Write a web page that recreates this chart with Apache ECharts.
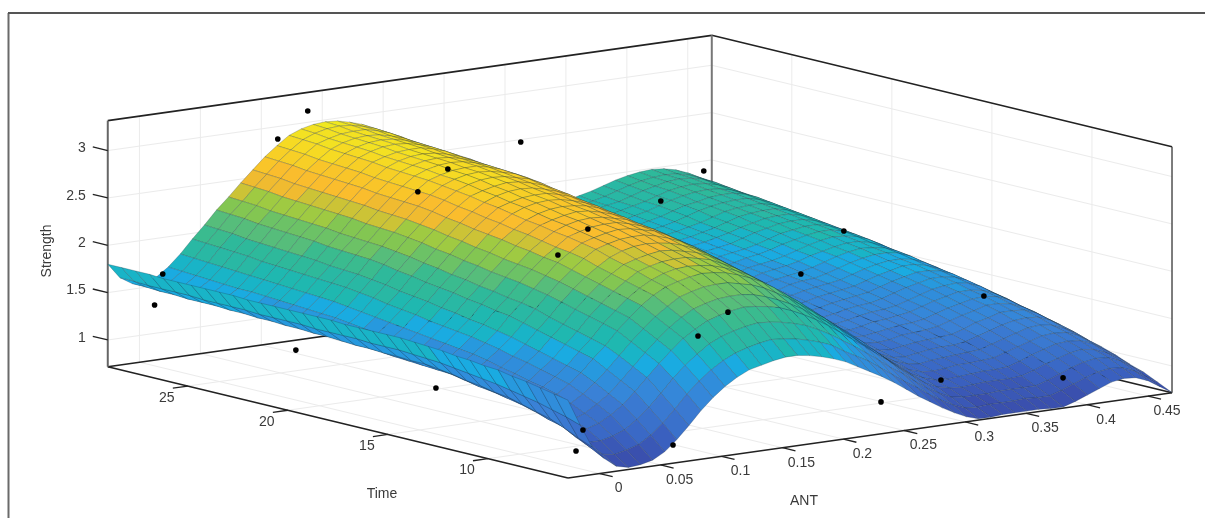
<!DOCTYPE html>
<html><head><meta charset="utf-8"><style>html,body{margin:0;padding:0;background:#fff}#c{width:1205px;height:518px}</style>
<script src="https://cdn.jsdelivr.net/npm/echarts@6/dist/echarts.min.js"></script></head><body><div id="c"></div><script>
// Strength x 100, one row per Time step (front to back), one value per ANT step (low to high)
const strengthRows=[
[154,126,101,87,77,74,75,78,85,96,109,123,135,145,153,159,162,165,167,167,165,162,158,153,146,139,132,124,115,106,98,90,83,77,73,73,74,74,74,74,73,73,77,82,87,92,94,93,88,80,72],
[157,131,107,95,86,84,87,91,99,110,123,137,149,159,167,173,177,180,182,181,179,176,172,167,159,152,145,136,127,118,110,101,93,86,81,80,81,81,81,82,81,81,85,90,95,99,101,100,95,87,79],
[160,135,114,102,95,95,98,103,112,123,136,150,162,172,181,187,191,194,196,195,193,190,186,180,173,165,157,148,139,129,121,111,102,95,89,87,87,87,88,88,88,88,92,97,102,106,108,107,102,94,86],
[163,139,120,110,102,104,108,115,124,136,149,162,174,185,193,200,204,207,209,208,206,203,198,192,185,177,168,159,150,140,131,120,111,102,96,93,92,93,94,94,94,95,99,104,108,112,114,112,107,100,91],
[165,142,124,114,109,110,115,123,132,144,157,170,182,193,202,209,213,216,217,217,215,211,206,200,193,184,176,167,157,147,138,127,117,108,102,98,97,98,99,100,100,101,105,110,114,118,119,118,113,105,97],
[168,145,128,119,114,116,122,130,140,152,165,178,190,201,210,218,222,225,226,226,223,220,215,208,201,192,183,174,164,154,145,133,123,114,107,103,102,103,105,105,106,107,111,115,119,123,124,123,118,110,102],
[169,148,132,123,119,122,128,137,147,160,172,186,198,209,218,225,229,232,234,233,231,227,222,216,208,199,190,180,170,160,151,139,129,119,112,108,106,108,109,110,111,112,116,120,124,128,129,127,122,115,106],
[171,150,134,126,121,125,132,141,151,164,176,190,202,213,222,229,234,237,238,237,235,231,226,220,212,203,194,184,174,164,154,142,132,123,116,111,110,112,114,115,115,117,121,125,129,132,133,132,127,119,111],
[172,152,137,129,124,128,135,145,155,168,180,194,206,217,226,234,238,241,242,242,239,236,230,224,216,207,198,188,178,168,158,146,136,127,119,115,114,116,118,119,120,121,125,130,133,137,137,136,131,123,115],
[174,154,139,131,127,131,139,149,159,172,184,198,210,221,230,238,242,245,247,246,243,240,235,228,220,211,201,191,181,171,161,149,139,130,123,119,118,119,122,123,124,126,130,134,137,141,141,139,134,127,118],
[175,156,142,134,130,134,142,152,163,176,188,202,214,225,234,242,247,250,251,250,248,244,239,232,224,215,205,195,185,175,165,153,143,134,126,122,121,123,125,127,128,130,134,138,141,144,145,143,138,130,122],
[176,157,144,137,132,137,146,156,167,180,193,206,218,229,239,247,251,254,255,255,252,248,243,236,228,219,209,199,188,178,168,156,146,137,130,125,124,126,129,130,132,134,138,142,145,148,148,146,141,134,125],
[177,158,146,138,134,140,149,159,170,184,196,209,221,233,242,250,254,257,259,258,255,252,246,239,231,222,212,202,191,181,171,159,149,140,133,128,127,129,132,134,135,137,141,145,149,151,152,150,145,137,129],
[177,159,146,139,136,142,151,162,173,186,198,212,224,235,244,253,257,260,261,261,258,254,249,242,233,224,214,204,194,183,173,161,151,142,135,131,130,132,135,137,138,141,145,149,152,155,155,153,148,140,132],
[177,159,147,140,138,144,153,164,175,189,201,214,226,238,247,255,260,263,264,263,260,257,251,244,236,226,216,206,196,185,175,163,153,145,138,133,133,135,138,140,142,144,148,152,155,158,158,156,151,143,135],
[177,159,147,141,139,145,155,166,178,191,203,216,228,240,250,258,262,265,267,266,263,259,254,246,238,229,219,208,198,187,177,165,156,147,140,136,135,138,141,143,145,147,151,155,158,161,161,158,153,146,137],
[177,160,148,143,141,147,157,168,180,194,206,219,231,243,252,260,265,268,269,268,266,262,256,249,240,231,221,211,200,189,179,168,158,149,143,138,138,141,144,146,148,150,154,158,161,163,163,161,156,149,140],
[178,160,148,144,143,149,159,171,183,196,208,221,233,245,255,263,268,271,272,271,268,264,259,251,243,233,223,213,202,192,181,170,160,152,145,140,140,143,147,149,150,153,157,161,164,166,166,164,159,151,143],
[178,160,149,145,144,151,161,173,185,198,211,224,236,247,257,266,270,273,274,274,271,267,261,254,245,236,225,215,204,194,183,172,162,154,147,143,143,146,149,151,153,156,160,164,167,169,168,166,161,154,145],
[178,160,150,146,146,153,163,175,187,201,213,226,238,250,260,268,273,276,277,276,273,269,264,256,248,238,228,217,207,196,185,174,164,156,150,145,145,148,152,154,156,159,163,166,169,171,171,168,163,156,147],
[178,161,150,147,147,155,165,178,190,203,216,229,241,252,262,271,275,278,280,279,276,272,266,259,250,240,230,219,209,198,187,176,167,158,152,147,147,150,154,156,158,161,165,169,172,174,173,171,166,159,150],
[178,161,151,148,149,157,167,180,192,206,218,231,243,255,265,273,278,281,282,281,278,275,269,261,252,243,232,222,211,200,189,178,169,160,154,149,149,152,156,159,161,164,168,171,174,176,176,173,168,161,152],
[178,161,151,149,150,158,169,182,194,208,220,233,245,257,267,275,280,283,284,283,280,277,271,263,254,245,234,223,213,202,191,180,170,162,156,151,151,155,159,161,163,166,170,174,176,178,178,175,170,163,154],
[178,161,152,149,151,159,170,183,195,209,221,234,246,258,268,277,281,284,285,285,282,278,272,264,255,246,235,224,214,203,192,181,172,163,157,153,153,157,161,163,165,169,173,176,179,180,180,177,172,165,156],
[179,162,152,150,152,160,171,184,196,210,222,235,247,259,269,278,283,286,287,286,283,279,273,265,257,247,236,225,215,204,193,182,173,165,159,154,155,159,163,165,168,171,175,178,181,182,182,179,174,167,158],
[179,162,153,150,153,161,172,185,198,211,223,237,249,260,270,279,284,287,288,287,284,280,274,267,258,248,237,226,216,205,194,183,174,166,161,156,157,160,165,167,170,173,177,181,183,184,184,181,176,169,160],
[179,162,153,151,153,162,173,186,199,213,225,238,250,262,271,280,285,288,289,288,285,281,276,268,259,249,238,228,217,206,195,184,176,168,162,158,159,162,167,169,172,175,179,183,185,186,186,183,178,171,162],
[179,162,154,152,154,163,174,187,200,214,226,239,251,263,273,282,286,289,290,290,287,283,277,269,260,250,239,229,218,207,196,185,177,169,164,159,161,164,169,171,174,178,182,185,187,188,188,185,180,173,164],
[179,163,154,152,155,163,175,188,201,215,227,240,252,264,274,283,288,291,292,291,288,284,278,270,261,251,241,230,219,208,197,187,178,171,165,161,162,166,170,173,176,180,184,186,189,190,190,187,182,175,166],
[179,163,154,153,156,164,176,190,202,216,228,241,253,265,275,284,289,292,293,292,289,285,279,271,262,252,242,231,220,209,198,188,179,172,167,162,164,168,172,175,178,182,186,189,191,192,191,188,183,176,167],
[180,163,155,153,157,165,177,191,203,217,229,242,254,266,276,285,290,293,294,293,290,286,280,272,264,254,243,232,221,210,199,189,180,173,168,164,165,169,174,177,180,183,187,191,193,194,193,190,185,178,169],
[180,163,155,154,157,166,178,192,205,219,231,244,256,268,278,287,291,294,295,295,292,288,282,274,265,255,244,233,222,211,200,190,182,174,169,165,167,171,176,179,181,185,189,192,195,196,195,192,187,180,171],
[180,164,156,154,158,167,179,193,206,220,232,245,257,269,279,288,293,296,297,296,293,289,283,275,266,256,245,234,223,212,201,191,183,176,171,167,169,172,177,180,183,187,191,194,196,197,196,193,188,181,172],
[180,164,156,155,159,168,180,194,207,221,233,246,258,270,280,289,294,297,298,297,294,290,284,276,267,257,246,235,224,213,202,192,184,177,172,168,170,174,179,182,185,189,193,196,198,199,198,195,190,183,174]
];
const antTicks=[0,.05,.1,.15,.2,.25,.3,.35,.4,.45];
const antLabels=['0','0.05','0.1','0.15','0.2','0.25','0.3','0.35','0.4','0.45'];
const timeTicks=[10,15,20,25];
const strengthTicks=[1,1.5,2,2.5,3];
const strengthLabels=['1','1.5','2','2.5','3'];
const sampleAnt=[.0027,-.004,.1217,.0971,.2965,.4467,.0971,.1217,.2965,.4467,-.003,.0971,.1217,.2965,.4467,-.003,.0971,.1217,.2965,.3967,.2473,.0766,-.003,.0027];
const sampleTime=[28,28,28,28,28,28,21,21,21,21,21,14,14,14,14,14,7,7,7,7,7,7,7,7];
const sampleStrength=[1.696,1.38,3.2,2.95,2.555,1.976,2.75,2.946,2.29,1.7,1.26,2.44,2.67,1.878,1.372,1.217,1.943,2.15,1.115,.956,.974,.829,.91,1.122];

const NR=strengthRows.length-1,NC=strengthRows[0].length-1;
const tMin=6,tMax=29,aMin=-0.026,aMax=0.4697,zMin=.718,zTop=3.316;
function P(a,t,z){const u=(a-aMin)*1218.5;return [568+u-(t-tMin)*20.01,478-u*.14124-(t-tMin)*4.84-(z-zMin)*94.7]}
const stops=[[.72,[58,72,165]],[1,[58,100,195]],[1.3,[58,130,215]],[1.5,[45,145,220]],[1.63,[24,174,226]],[1.74,[26,184,182]],[1.85,[40,184,165]],[2,[50,186,148]],[2.1,[85,189,124]],[2.25,[125,197,85]],[2.38,[170,204,60]],[2.46,[225,190,50]],[2.55,[251,184,47]],[2.7,[248,200,40]],[2.85,[246,220,35]],[3,[240,232,32]]];
function col(z){const n=28,q=Math.round((z-.72)/(2.28)*n)/n*2.28+.72;for(let i=0;i<stops.length-1;i++)if(q<=stops[i+1][0]){const f=Math.max(0,(q-stops[i][0])/(stops[i+1][0]-stops[i][0]));const a=stops[i][1],b=stops[i+1][1];return 'rgb('+a.map((v,k)=>Math.round(v+(b[k]-v)*f)).join(',')+')'}return 'rgb(240,232,32)'}
const cells=[];for(let r=NR-1;r>=0;r--)for(let c=NC-1;c>=0;c--)cells.push([c,r]);
const lines=[];function seg(p,q,s,w){lines.push({p,q,s,w})}
const GR='#ebebeb';
antTicks.forEach(a=>{seg([a,tMax,zMin],[a,tMax,zTop],GR,1);seg([a,tMin,zMin],[a,tMax,zMin],GR,1)});
timeTicks.forEach(t=>{seg([aMax,t,zMin],[aMax,t,zTop],GR,1);seg([aMin,t,zMin],[aMax,t,zMin],GR,1)});
strengthTicks.forEach(z=>{seg([aMin,tMax,z],[aMax,tMax,z],GR,1);seg([aMax,tMin,z],[aMax,tMax,z],GR,1)});
const K='#222';
seg([aMin,tMax,zTop],[aMax,tMax,zTop],K,1.6);seg([aMax,tMax,zTop],[aMax,tMin,zTop],K,1.6);
seg([aMin,tMax,zMin],[aMax,tMax,zMin],K,1.6);seg([aMax,tMax,zMin],[aMax,tMin,zMin],K,1.6);
seg([aMin,tMax,zMin],[aMin,tMin,zMin],K,1.6);seg([aMin,tMin,zMin],[aMax,tMin,zMin],K,1.6);
seg([aMin,tMax,zMin],[aMin,tMax,zTop],'#666',2);seg([aMax,tMax,zMin],[aMax,tMax,zTop],'#777',2);seg([aMax,tMin,zMin],[aMax,tMin,zTop],'#444',1.4);
antTicks.forEach(a=>seg([a,tMin,zMin],[a,tMin-.65,zMin],K,1.3));
timeTicks.forEach(t=>seg([aMin,t,zMin],[aMin-.0123,t,zMin],K,1.3));
strengthTicks.forEach(z=>seg([aMin,tMax,z],[aMin,tMax+.75,z],K,1.3));
const texts=[];
antTicks.forEach((a,i)=>{const q=P(a,tMin,zMin);texts.push([q[0]+19,q[1]+15,antLabels[i],0])});
timeTicks.forEach(t=>{const q=P(aMin,t,zMin);texts.push([q[0]-21,q[1]+12,String(t),0])});
strengthTicks.forEach((z,i)=>{const q=P(aMin,tMax,z);texts.push([q[0]-22,q[1]-2,strengthLabels[i],1])});
const chart=echarts.init(document.getElementById('c'),null,{renderer:'canvas'});
const base={type:'custom',coordinateSystem:'cartesian2d',clip:false,silent:true,animation:false,progressive:0};
function C(api,p){return api.coord(p)}
chart.setOption({animation:false,backgroundColor:'#fff',
grid:{left:0,right:0,top:0,bottom:0},
xAxis:{type:'value',min:0,max:1205,show:false},yAxis:{type:'value',min:0,max:518,inverse:true,show:false},
graphic:[{type:'line',shape:{x1:8.5,y1:13,x2:8.5,y2:518},style:{stroke:'#6a6a6a',lineWidth:2}},{type:'line',shape:{x1:8,y1:13,x2:1205,y2:13},style:{stroke:'#555',lineWidth:2}},
{type:'text',x:47,y:251,rotation:Math.PI/2,style:{text:'Strength',fill:'#3a3a3a',font:'14px "Liberation Sans"',align:'center',verticalAlign:'middle'}},
{type:'text',x:382,y:494,style:{text:'Time',fill:'#3a3a3a',font:'14px "Liberation Sans"',align:'center',verticalAlign:'middle'}},
{type:'text',x:804,y:501,style:{text:'ANT',fill:'#3a3a3a',font:'14px "Liberation Sans"',align:'center',verticalAlign:'middle'}}],
series:[
Object.assign({},base,{name:'box',data:lines.map((l,i)=>[i]),z:1,renderItem(p,api){const l=lines[api.value(0)];const A=C(api,P(...l.p)),Bb=C(api,P(...l.q));return {type:'line',shape:{x1:A[0],y1:A[1],x2:Bb[0],y2:Bb[1]},style:{stroke:l.s,lineWidth:l.w}}}}),
Object.assign({},base,{name:'surface',data:cells,z:2,renderItem(p,api){const c=api.value(0),r=api.value(1);const Zv=(cc,rr)=>strengthRows[rr][cc]/100;const g=(cc,rr)=>C(api,P(aMin+(aMax-aMin)*cc/NC,tMin+(tMax-tMin)*rr/NR,Zv(cc,rr)));const m=(Zv(c,r)+Zv(c+1,r)+Zv(c,r+1)+Zv(c+1,r+1))/4;return {type:'polygon',shape:{points:[g(c,r),g(c+1,r),g(c+1,r+1),g(c,r+1)]},style:{fill:col(m),stroke:'rgba(30,50,60,.42)',lineWidth:.6}}}}),
Object.assign({},base,{name:'dots',data:sampleAnt.map((a,i)=>[a,sampleTime[i],sampleStrength[i]]),z:3,renderItem(p,api){const q=C(api,P(api.value(0),api.value(1),api.value(2)));return {type:'circle',shape:{cx:q[0],cy:q[1],r:2.8},style:{fill:'#000'}}}}),
Object.assign({},base,{name:'labels',data:texts.map((t,i)=>[i]),z:4,renderItem(p,api){const t=texts[api.value(0)];const q=C(api,[t[0],t[1]]);return {type:'text',x:q[0],y:q[1],style:{text:t[2],fill:'#3a3a3a',font:'14px "Liberation Sans"',align:t[3]?'right':'center',verticalAlign:'middle'}}}})
]});
</script></body></html>
